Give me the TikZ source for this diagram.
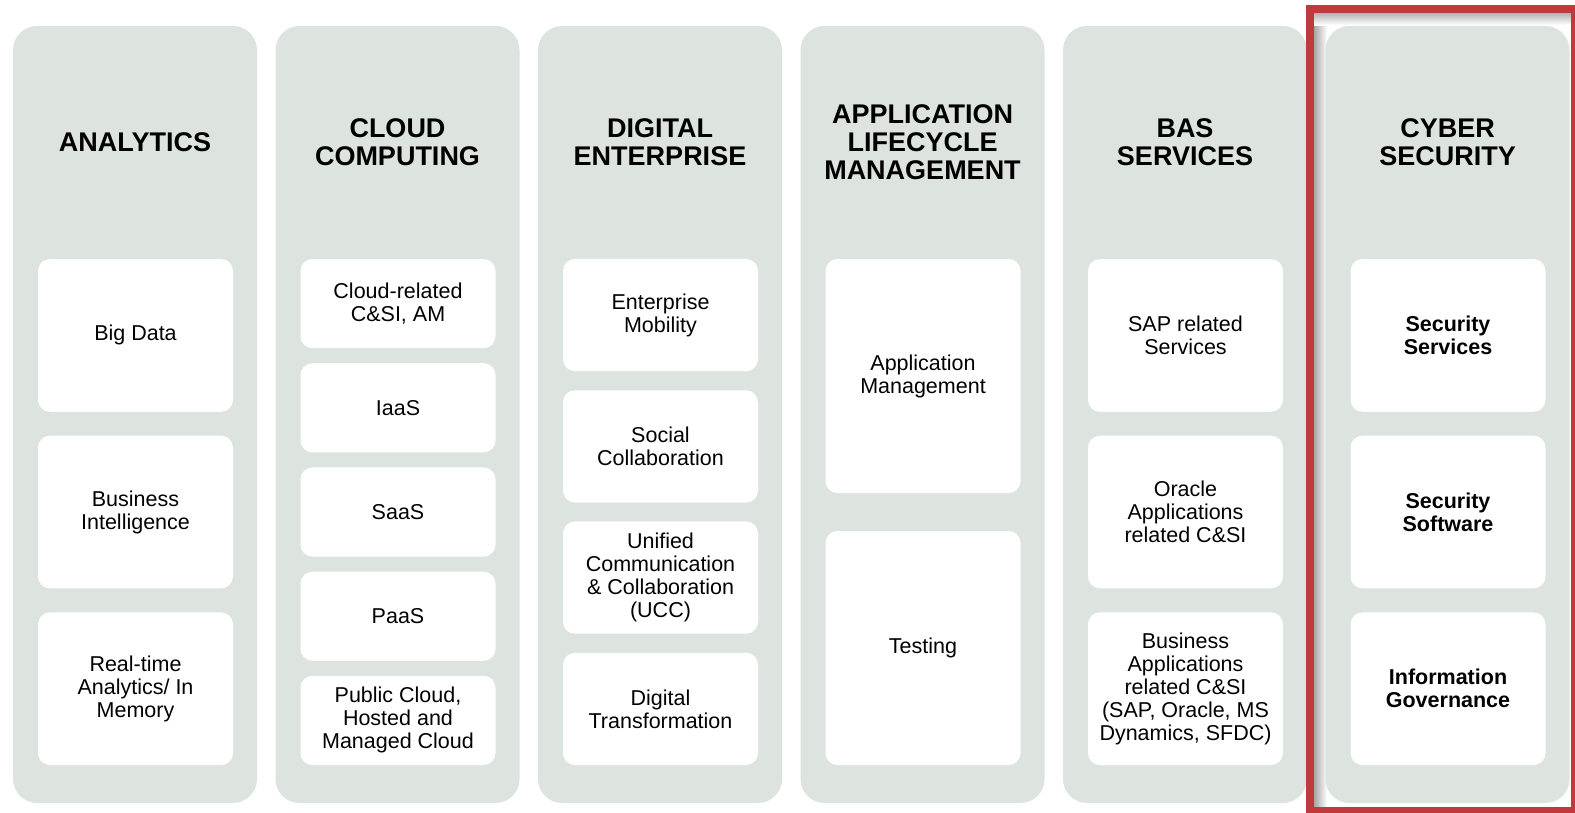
\documentclass[tikz,border=0pt]{standalone}
\usepackage{fontspec}
\setmainfont{Liberation Sans}
\definecolor{colbg}{RGB}{221,228,223}
\definecolor{frame}{RGB}{192,57,60}
\newcommand\bodyfnt{\fontsize{21.5}{23}\selectfont}
\newcommand\titlefnt{\fontsize{27}{28}\selectfont\bfseries}
\tikzset{
  colbox/.style={fill=colbg, rounded corners=24pt, inner sep=0pt, minimum width=244pt, minimum height=777pt},
  wbox/.style={fill=white, rounded corners=12pt, inner sep=0pt, minimum width=195pt, align=center, font=\bodyfnt},
  bwbox/.style={wbox, font=\bodyfnt\bfseries},
  ttl/.style={align=center, font=\titlefnt, inner sep=0pt},
  hA/.style={minimum height=152.7pt},
  hB/.style={minimum height=89.2pt},
  hC/.style={minimum height=112.25pt},
  hD/.style={minimum height=234pt}
}
\begin{document}
\begin{tikzpicture}[x=1pt,y=-1pt]
\useasboundingbox (0,0) rectangle (1575,812);
\fill[white] (0,0) rectangle (1575,812);
% shadow inside frame
\shade[left color=black!35, right color=white] (1314,13) rectangle (1327,807);
\shade[top color=black!30, bottom color=white] (1314,13) rectangle (1571,25);
% columns
\node[colbox] (c1) at (135,414.5) {};
\node[colbox] (c2) at (397.5,414.5) {};
\node[colbox] (c3) at (660,414.5) {};
\node[colbox] (c4) at (922.5,414.5) {};
\node[colbox] (c5) at (1185,414.5) {};
\node[colbox] (c6) at (1447.5,414.5) {};
% titles
\node[ttl] (t1) at (135,142) {ANALYTICS};
\node[ttl] (t2) at (397.5,142) {CLOUD\\COMPUTING};
\node[ttl] (t3) at (660,142) {DIGITAL\\ENTERPRISE};
\node[ttl] (t4) at (922.5,142) {APPLICATION\\LIFECYCLE\\MANAGEMENT};
\node[ttl] (t5) at (1185,142) {BAS\\SERVICES};
\node[ttl] (t6) at (1447.5,142) {CYBER\\SECURITY};
% column 1
\node[wbox,hA] (a1) at (135.5,335.4) {Big Data};
\node[wbox,hA] (a2) at (135.5,512) {Business\\Intelligence};
\node[wbox,hA] (a3) at (135.5,688.7) {Real-time\\Analytics/ In\\Memory};
% column 2
\node[wbox,hB] (b1) at (398,303.6) {Cloud-related\\C\&SI, AM};
\node[wbox,hB] (b2) at (398,407.8) {IaaS};
\node[wbox,hB] (b3) at (398,512) {SaaS};
\node[wbox,hB] (b4) at (398,616.2) {PaaS};
\node[wbox,hB] (b5) at (398,720.4) {Public Cloud,\\Hosted and\\Managed Cloud};
% column 3
\node[wbox,hC] (d1) at (660.5,315.1) {Enterprise\\Mobility};
\node[wbox,hC] (d2) at (660.5,446.4) {Social\\Collaboration};
\node[wbox,hC] (d3) at (660.5,577.6) {Unified\\Communication\\\& Collaboration\\(UCC)};
\node[wbox,hC] (d4) at (660.5,708.9) {Digital\\Transformation};
% column 4
\node[wbox,hD] (e1) at (923,376) {Application\\Management};
\node[wbox,hD] (e2) at (923,648) {Testing};
% column 5
\node[wbox,hA] (f1) at (1185.5,335.4) {SAP related\\Services};
\node[wbox,hA] (f2) at (1185.5,512) {Oracle\\Applications\\related C\&SI};
\node[wbox,hA] (f3) at (1185.5,688.7) {Business\\Applications\\related C\&SI\\(SAP, Oracle, MS\\Dynamics, SFDC)};
% column 6
\node[bwbox,hA] (g1) at (1448,335.4) {Security\\Services};
\node[bwbox,hA] (g2) at (1448,512) {Security\\Software};
\node[bwbox,hA] (g3) at (1448,688.7) {Information\\Governance};
% highlight frame
\draw[frame, line width=8pt] (1310,9) rectangle (1575,811);
\end{tikzpicture}
\end{document}
